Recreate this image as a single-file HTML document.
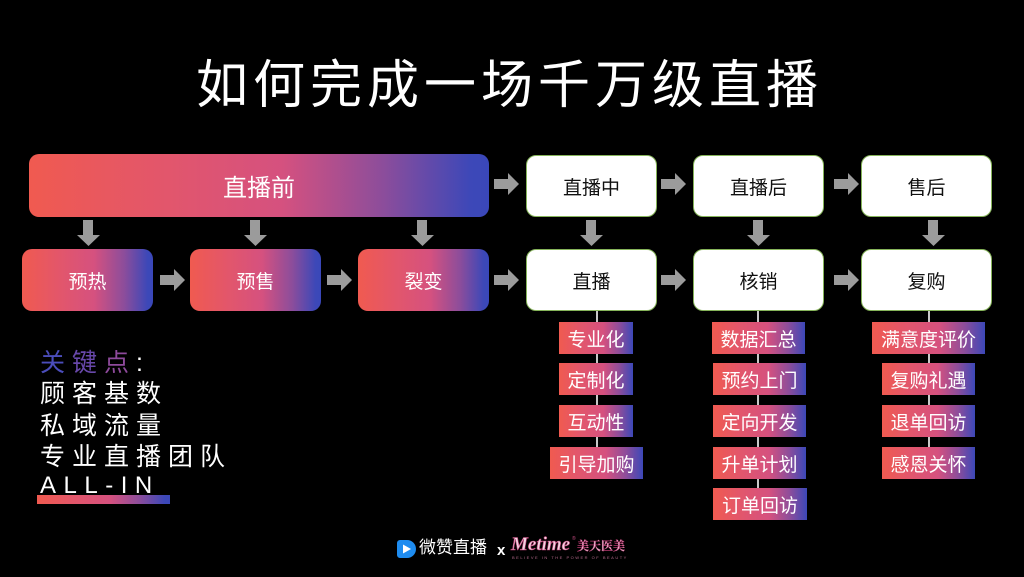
<!DOCTYPE html>
<html><head><meta charset="utf-8">
<style>
*{margin:0;padding:0;box-sizing:border-box}
html,body{width:1024px;height:577px;background:#000;overflow:hidden}
body{position:relative;font-family:"Liberation Sans","Noto Sans CJK SC",sans-serif}
.a{position:absolute}
.title{left:196px;top:56px;font-size:52px;line-height:60px;color:#fff;letter-spacing:5px;white-space:nowrap;font-family:"Liberation Sans","Noto Sans CJK SC",sans-serif}
.g{background:linear-gradient(90deg,#f05a50 0%,#e2566c 30%,#d5517f 55%,#8c4d9b 77%,#3d48b8 96%,#3a47b9 100%)}
.big{left:29px;top:154px;width:460px;height:63px;border-radius:10px;color:#fff;font-size:24px;display:flex;align-items:center;justify-content:center}
.sm{top:249px;width:131px;height:62px;border-radius:10px;color:#fff;font-size:19px;display:flex;align-items:center;justify-content:center;background:linear-gradient(90deg,#f05a50 0%,#e2566c 30%,#d5517f 55%,#8c4d9b 78%,#3c48b8 96%,#3a47b9 100%)}
.wb{width:131px;height:62px;border-radius:10px;background:#fff;border:1.5px solid #86b45a;color:#111;font-size:19px;display:flex;align-items:center;justify-content:center}
.tag{height:32px;color:#fff;font-size:19px;display:flex;align-items:center;justify-content:center;white-space:nowrap;background:linear-gradient(90deg,#f05a50 0%,#e2566c 30%,#d5517f 60%,#8c4d9b 82%,#3c48b8 100%)}
.vl{width:2px;background:#c8c8c8}
.lt{left:40px;font-size:25px;line-height:27px;color:#fff;letter-spacing:7px;white-space:nowrap}
</style></head><body>

<div class="a title">如何完成一场千万级直播</div>

<div class="a big g">直播前</div>

<div class="a sm" style="left:22px">预热</div>
<div class="a sm" style="left:190px">预售</div>
<div class="a sm" style="left:358px">裂变</div>

<div class="a wb" style="left:526px;top:155px">直播中</div>
<div class="a wb" style="left:693px;top:155px">直播后</div>
<div class="a wb" style="left:861px;top:155px">售后</div>
<div class="a wb" style="left:526px;top:249px">直播</div>
<div class="a wb" style="left:693px;top:249px">核销</div>
<div class="a wb" style="left:861px;top:249px">复购</div>

<!-- arrows -->
<svg class="a" style="left:0;top:0" width="1024" height="577">
<defs>
<polygon id="ra" points="0,6 14,6 14,0 25,11 14,22 14,16 0,16" fill="#9b9b9b"/>
<polygon id="da" points="6,0 16,0 16,15 23,15 11.5,26 0,15 6,15" fill="#9b9b9b"/>
</defs>
<use href="#ra" x="494" y="173"/>
<use href="#ra" x="661" y="173"/>
<use href="#ra" x="834" y="173"/>
<use href="#ra" x="160" y="269"/>
<use href="#ra" x="327" y="269"/>
<use href="#ra" x="494" y="269"/>
<use href="#ra" x="661" y="269"/>
<use href="#ra" x="834" y="269"/>
<use href="#da" x="77" y="220"/>
<use href="#da" x="244" y="220"/>
<use href="#da" x="411" y="220"/>
<use href="#da" x="580" y="220"/>
<use href="#da" x="747" y="220"/>
<use href="#da" x="922" y="220"/>
</svg>

<!-- vertical lines -->
<div class="a vl" style="left:596px;top:311px;height:140px"></div>
<div class="a vl" style="left:757px;top:311px;height:180px"></div>
<div class="a vl" style="left:928px;top:311px;height:140px"></div>

<!-- tags col1 -->
<div class="a tag" style="left:559px;top:322px;width:74px">专业化</div>
<div class="a tag" style="left:559px;top:363px;width:74px">定制化</div>
<div class="a tag" style="left:559px;top:405px;width:74px">互动性</div>
<div class="a tag" style="left:550px;top:447px;width:93px">引导加购</div>
<!-- col2 -->
<div class="a tag" style="left:712px;top:322px;width:93px">数据汇总</div>
<div class="a tag" style="left:713px;top:363px;width:93px">预约上门</div>
<div class="a tag" style="left:713px;top:405px;width:93px">定向开发</div>
<div class="a tag" style="left:713px;top:447px;width:93px">升单计划</div>
<div class="a tag" style="left:713px;top:488px;width:94px">订单回访</div>
<!-- col3 -->
<div class="a tag" style="left:872px;top:322px;width:113px">满意度评价</div>
<div class="a tag" style="left:882px;top:363px;width:93px">复购礼遇</div>
<div class="a tag" style="left:882px;top:405px;width:93px">退单回访</div>
<div class="a tag" style="left:882px;top:447px;width:93px">感恩关怀</div>

<!-- left key points -->
<div class="a lt" style="top:350px"><span style="color:#4b4dbb">关</span><span style="color:#6848aa">键</span><span style="color:#8e4a9c">点</span>:</div>
<div class="a lt" style="top:381px">顾客基数</div>
<div class="a lt" style="top:413px">私域流量</div>
<div class="a lt" style="top:444px">专业直播团队</div>
<div class="a lt" style="top:472px;font-size:24px;letter-spacing:7.5px;font-family:'Liberation Sans',sans-serif">ALL-IN</div>
<div class="a g" style="left:37px;top:495px;width:133px;height:9px"></div>

<!-- logo -->
<svg class="a" style="left:397px;top:540px" width="19" height="18" viewBox="0 0 19 18">
<path d="M3,0 H10 A9,9 0 0 1 10,18 H3 A3,3 0 0 1 0,15 V3 A3,3 0 0 1 3,0 Z" fill="#1e8cf0"/>
<polygon points="6,4.5 14,9 6,13.5" fill="#fff"/>
</svg>
<div class="a" style="left:419px;top:538px;font-size:17px;line-height:20px;color:#fff;white-space:nowrap">微赞直播</div>
<div class="a" style="left:497px;top:542px;font-size:15px;line-height:18px;color:#fff;font-weight:bold">x</div>
<div class="a" style="left:511px;top:535px;font-size:19px;line-height:20px;color:#f3d3e1;font-family:'Liberation Serif',serif;font-style:italic;font-weight:bold;-webkit-text-stroke:0.6px #b7386f;white-space:nowrap">Metime</div>
<div class="a" style="left:572px;top:536px;font-size:5px;color:#c24a7f">®</div>
<div class="a" style="left:577px;top:539px;font-size:12px;line-height:14px;color:#e9b8cf;font-family:'Liberation Serif','Noto Serif CJK SC',serif;font-weight:bold;white-space:nowrap;-webkit-text-stroke:0.4px #b7386f">美天医美</div>
<div class="a" style="left:512px;top:555px;font-size:4px;line-height:5px;color:#b56a8c;letter-spacing:1.5px;white-space:nowrap">BELIEVE IN THE POWER OF BEAUTY</div>

</body></html>
